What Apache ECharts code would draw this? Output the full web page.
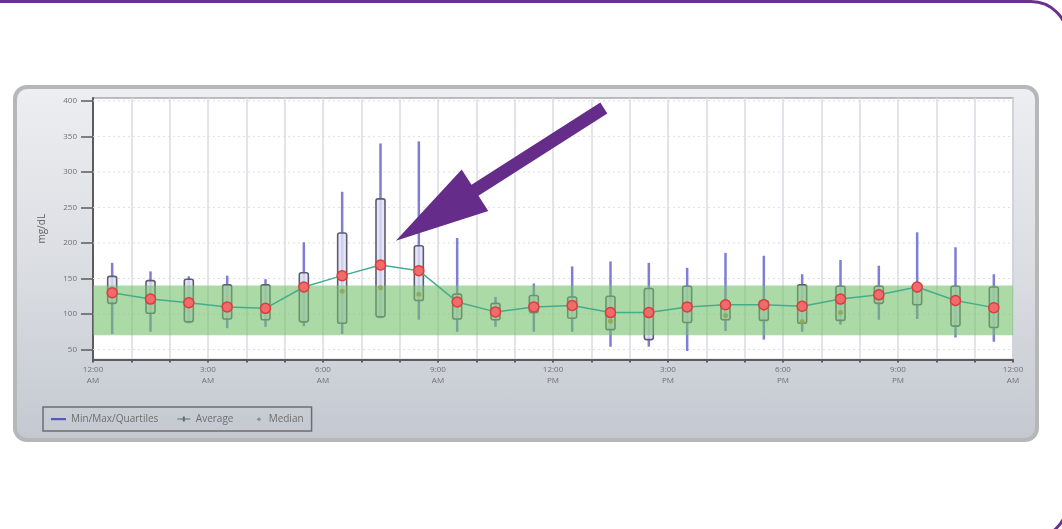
<!DOCTYPE html>
<html>
<head>
<meta charset="utf-8">
<title>Glucose by time of day</title>
<script src="https://cdn.jsdelivr.net/npm/echarts@6/dist/echarts.min.js"></script>
<style>
  html, body { margin: 0; padding: 0; background: #fff; }
  #page { position: relative; width: 1062px; height: 529px; overflow: hidden; background: #fff; }
  #frame { position: absolute; left: -40px; top: 0; width: 1109px; height: 540px; box-sizing: border-box;
           border: 3px solid #6b2f8f; border-radius: 38px; }
  #panel { position: absolute; left: 13px; top: 85px; width: 1026px; height: 357px; box-sizing: border-box;
           border: 4px solid #b6b7b9; border-radius: 14px;
           background: linear-gradient(to bottom, #eceef1 0%, #d9dce1 55%, #c4c9d1 100%); }
  #chart { position: absolute; left: 0; top: 0; width: 1062px; height: 529px; }
</style>
</head>
<body>
<div id="page">
  <div id="frame"></div>
  <div id="panel"></div>
  <div id="chart"></div>
</div>
<script>
// Hourly glucose profile: one box per hour slot (slot start hour, 0 = midnight)
const slotStart = [0, 1, 2, 3, 4, 5, 6, 7, 8, 9, 10, 11, 12, 13, 14, 15, 16, 17, 18, 19, 20, 21, 22, 23];
const minVals    = [72, 75, 87, 80, 82, 83, 72, 94, 92, 75, 82, 75, 75, 54, 54, 48, 76, 64, 75, 85, 92, 93, 67, 61];
const q1Vals     = [115, 101, 89, 93, 92, 89, 87, 96, 119, 93, 92, 102, 94, 78, 64, 88, 92, 91, 87, 91, 115, 113, 83, 81];
const q3Vals     = [153, 147, 149, 141, 141, 158, 214, 262, 196, 128, 115, 126, 124, 125, 136, 139, 117, 119, 141, 139, 139, 142, 139, 138];
const maxVals    = [172, 160, 153, 154, 149, 201, 272, 340, 343, 207, 124, 143, 167, 174, 172, 165, 186, 182, 156, 176, 168, 215, 194, 156];
const avgVals    = [130, 121, 116, 110, 108, 138, 154, 169, 161, 117, 103, 110, 112, 102, 102, 110, 113, 113, 111, 121, 127, 138, 119, 109];
const medianVals = [127, 118, 114, 107, 104, 134, 132, 137, 128, 115, 104, 108, 112, 90, 98, 106, 98, 108, 89, 102, 124, 133, 115, 106];

// Target range band (mg/dL)
const targetRange = [70, 140];

// Axis ticks
const yTicks = [50, 100, 150, 200, 250, 300, 350, 400];
const timeLabels = ['12:00\nAM', '3:00\nAM', '6:00\nAM', '9:00\nAM', '12:00\nPM', '3:00\nPM', '6:00\nPM', '9:00\nPM', '12:00\nAM'];

// Callout arrow points at this (hour, mg/dL) spot
const arrowTip = [7.9, 203];

const FONT = '"Open Sans", "DejaVu Sans", sans-serif';
const chart = echarts.init(document.getElementById('chart'), null, { renderer: 'canvas' });

const option = {
  animation: false,
  textStyle: { fontFamily: FONT },
  grid: {
    left: 93, right: 49, top: 98, bottom: 169.5,
    show: true, backgroundColor: '#ffffff', borderColor: '#a9a9ad', borderWidth: 1.5
  },
  xAxis: {
    type: 'value', min: 0, max: 24, interval: 1,
    axisLine: { show: true, onZero: false, lineStyle: { color: '#5c5c60', width: 2 } },
    axisTick: { show: true, length: 3, lineStyle: { color: '#5c5c60', width: 2 } },
    axisLabel: {
      fontSize: 8, color: '#707070', lineHeight: 11, margin: 5, fontFamily: FONT,
      formatter: v => (v % 3 === 0 ? timeLabels[v / 3] : '')
    },
    splitLine: { show: true, lineStyle: { color: '#dadae3', width: 1.5 } }
  },
  yAxis: {
    type: 'value', min: 36, max: 404,
    name: 'mg/dL', nameLocation: 'middle', nameRotate: 90, nameGap: 46,
    nameTextStyle: { fontSize: 10, color: '#666', fontFamily: FONT },
    axisLine: { show: true, lineStyle: { color: '#5c5c60', width: 2 } },
    axisTick: { show: true, length: 12, customValues: yTicks, lineStyle: { color: '#5c5c60', width: 1.5 } },
    axisLabel: { customValues: yTicks, fontSize: 8, color: '#707070', margin: 16, fontFamily: FONT },
    splitLine: { show: false }
  },
  legend: {
    left: 43, top: 407, orient: 'horizontal', selectedMode: false,
    padding: [7, 8, 7, 8], itemGap: 18, itemWidth: 15, itemHeight: 8,
    borderColor: '#6e6e72', borderWidth: 1.5,
    textStyle: { fontSize: 10, color: '#6e6e6e', fontFamily: FONT },
    data: [
      { name: 'Min/Max/Quartiles', icon: 'path://M0,0 M0,8 M0,3 H15 V5.2 H0 Z',
        itemStyle: { color: '#5757c4', borderWidth: 0 } },
      { name: 'Average', icon: 'path://M0,0 M0,8 M1,3.4 H6.5 V1.5 H8.5 V3.4 H14 V4.6 H8.5 V6.5 H6.5 V4.6 H1 Z',
        itemStyle: { color: '#5f6b70', borderWidth: 0, borderColor: '#5f6b70' } },
      { name: 'Median', icon: 'path://M0,0 M0,8 M6.8,2.4 H8.2 V3.6 H9.4 V5 H8.2 V6.2 H6.8 V5 H5.6 V3.6 H6.8 Z',
        itemStyle: { color: '#7a7a7a', borderWidth: 0 } }
    ]
  },
  series: [
    {
      // faint horizontal guide lines at the labelled values
      name: 'guides', type: 'custom', z: 1, silent: true,
      data: yTicks.map(v => [0, 24, v]),
      encode: { x: [0, 1], y: 2 },
      renderItem: (params, api) => {
        const a = api.coord([api.value(0), api.value(2)]);
        const b = api.coord([api.value(1), api.value(2)]);
        return { type: 'line', shape: { x1: a[0], y1: a[1], x2: b[0], y2: b[1] },
                 style: { stroke: '#dedee4', lineWidth: 1, lineDash: [2, 3] } };
      }
    },
    {
      name: 'Min/Max/Quartiles', type: 'custom', z: 2,
      itemStyle: { color: '#5757c4' },
      data: slotStart.map((h, i) => [h, minVals[i], q1Vals[i], q3Vals[i], maxVals[i]]),
      encode: { x: 0, y: [1, 2, 3, 4] },
      renderItem: (params, api) => {
        const x = api.value(0) + 0.5;
        const lo = api.coord([x, api.value(1)]);
        const q1 = api.coord([x, api.value(2)]);
        const q3 = api.coord([x, api.value(3)]);
        const hi = api.coord([x, api.value(4)]);
        const w = 9;
        return {
          type: 'group',
          children: [
            { type: 'line', shape: { x1: lo[0], y1: lo[1], x2: hi[0], y2: hi[1] },
              style: { stroke: '#7e7ed6', lineWidth: 2.5 } },
            { type: 'rect', shape: { x: q3[0] - w / 2, y: q3[1], width: w, height: q1[1] - q3[1], r: 2 },
              style: { fill: 'rgba(224,224,246,0.82)', stroke: '#5d5d6e', lineWidth: 1.6 } }
          ]
        };
      }
    },
    {
      name: 'Median', type: 'scatter', z: 2,
      symbol: 'circle', symbolSize: 5,
      itemStyle: { color: '#b97a22' },
      data: slotStart.map((h, i) => [h + 0.5, medianVals[i]])
    },
    {
      // target range, drawn translucent over the boxes
      name: 'target', type: 'custom', z: 3, silent: true,
      data: [[0, 24, targetRange[0], targetRange[1]]],
      encode: { x: [0, 1], y: [2, 3] },
      renderItem: (params, api) => {
        const tl = api.coord([api.value(0), api.value(3)]);
        const br = api.coord([api.value(1), api.value(2)]);
        return { type: 'rect', shape: { x: tl[0], y: tl[1], width: br[0] - tl[0], height: br[1] - tl[1] },
                 style: { fill: 'rgba(112,192,104,0.58)' } };
      }
    },
    {
      name: 'Average', type: 'line', z: 4,
      symbol: 'circle', symbolSize: 10,
      lineStyle: { color: '#45ad8c', width: 1.5 },
      itemStyle: { color: '#f06c6c', borderColor: '#dc3c3c', borderWidth: 1.5 },
      data: slotStart.map((h, i) => [h + 0.5, avgVals[i]])
    }
  ]
};

chart.setOption(option);

// Purple callout arrow, anchored to the data position it points at
(function drawArrow() {
  const P = chart.convertToPixel({ xAxisIndex: 0, yAxisIndex: 0 }, arrowTip);
  const u = [-0.842, 0.538];           // pointing direction (tail -> tip)
  const n = [u[1], -u[0]];             // perpendicular
  const headLen = 94, totalLen = 247, headHalf = 24.7, shaftHalf = 6.5;
  const B = [P[0] - headLen * u[0], P[1] - headLen * u[1]];
  const T = [P[0] - totalLen * u[0], P[1] - totalLen * u[1]];
  const off = (p, k) => [p[0] + k * n[0], p[1] + k * n[1]];
  const pts = [off(T, shaftHalf), off(B, shaftHalf), off(B, headHalf), P,
               off(B, -headHalf), off(B, -shaftHalf), off(T, -shaftHalf)];
  chart.setOption({
    graphic: [{ type: 'polygon', z: 100, silent: true, shape: { points: pts }, style: { fill: '#652d89' } }]
  });
})();
</script>
</body>
</html>
